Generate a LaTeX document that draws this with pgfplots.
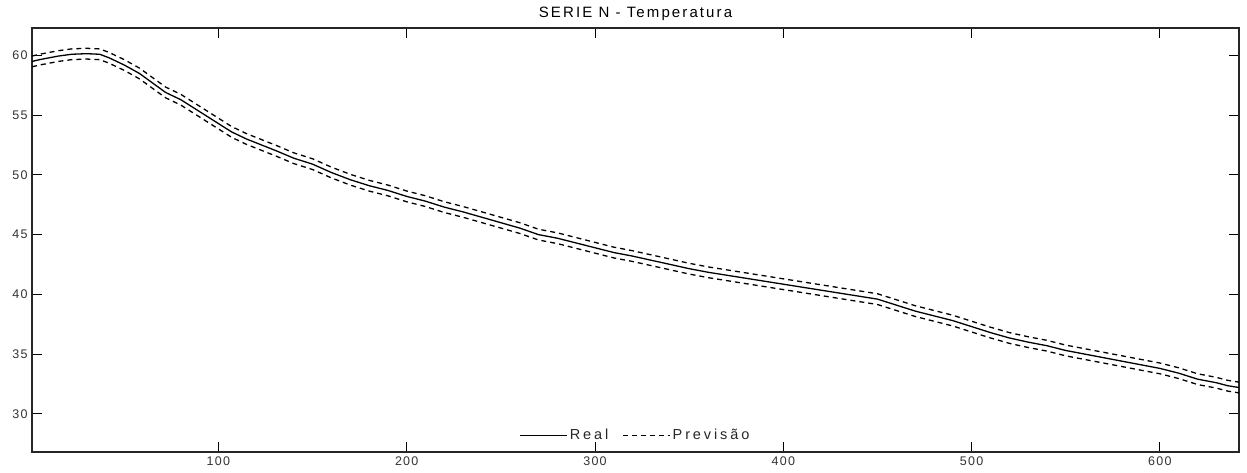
\documentclass[border=0pt]{standalone}
\usepackage{fontspec}
\setmainfont{Liberation Sans}
\newfontfamily\tickfont[LetterSpace=10]{Liberation Sans}
\newfontfamily\legfont[LetterSpace=20]{Liberation Sans}
\newfontfamily\titfont[LetterSpace=14]{Liberation Sans}
\usepackage{pgfplots}
\usepackage{pgfplotstable}
\pgfplotsset{compat=1.18}
\pgfplotstableread{
x real up lo
1 59.5 59.95 59.05
5 59.65 60.1 59.2
10 59.8 60.25 59.35
15 59.95 60.4 59.5
22 60.1 60.55 59.65
30 60.15 60.6 59.7
37 60.1 60.55 59.65
42 59.8 60.25 59.35
50 59.2 59.65 58.75
58 58.5 58.95 58.05
65 57.7 58.15 57.25
72 56.9 57.35 56.45
80 56.3 56.75 55.85
85 55.8 56.25 55.35
92 55.1 55.55 54.65
99 54.4 54.85 53.95
107 53.6 54.05 53.15
115 53.0 53.45 52.55
123 52.5 52.95 52.05
131 52.0 52.45 51.55
140 51.4 51.85 50.95
150 50.9 51.35 50.45
160 50.2 50.65 49.75
170 49.6 50.05 49.15
180 49.1 49.55 48.65
190 48.7 49.15 48.25
200 48.2 48.65 47.75
210 47.8 48.25 47.35
220 47.3 47.75 46.85
230 46.9 47.35 46.45
240 46.45 46.9 46.0
250 46.0 46.45 45.55
260 45.55 46.0 45.1
270 45.0 45.45 44.55
280 44.7 45.15 44.25
290 44.3 44.75 43.85
300 43.9 44.35 43.45
310 43.5 43.95 43.05
320 43.2 43.65 42.75
330 42.85 43.3 42.4
340 42.5 42.95 42.05
350 42.15 42.6 41.7
360 41.85 42.3 41.4
370 41.6 42.05 41.15
380 41.35 41.8 40.9
390 41.1 41.55 40.65
400 40.85 41.3 40.4
410 40.6 41.05 40.15
420 40.35 40.8 39.9
430 40.1 40.55 39.65
440 39.85 40.3 39.4
450 39.6 40.05 39.15
455 39.35 39.8 38.9
460 39.1 39.55 38.65
470 38.6 39.05 38.15
480 38.2 38.65 37.75
490 37.8 38.25 37.35
500 37.3 37.75 36.85
510 36.8 37.25 36.35
520 36.35 36.8 35.9
530 36.0 36.45 35.55
540 35.7 36.15 35.25
550 35.3 35.75 34.85
560 35.0 35.45 34.55
570 34.7 35.15 34.25
580 34.4 34.85 33.95
590 34.1 34.55 33.65
600 33.8 34.25 33.35
610 33.4 33.85 32.95
620 32.9 33.35 32.45
630 32.6 33.05 32.15
636 32.35 32.8 31.9
642 32.2 32.65 31.75
}\data
\begin{document}
\begin{tikzpicture}
\begin{axis}[
  at={(0,0)}, anchor=south west,
  scale only axis, width=1207pt, height=424pt,
  xmin=1, xmax=642, ymin=26.8, ymax=62.3,
  xtick={100,200,300,400,500,600},
  ytick={30,35,40,45,50,55,60},
  tick align=inside, major tick length=10pt,
  axis line style={line width=1.3pt, black!85},
  every tick/.style={line width=1pt, black},
  ticklabel style={font=\tickfont\fontsize{12.5}{14}\selectfont, text=black!80},
  xticklabel style={yshift=-1pt},
  yticklabel style={xshift=-1pt},
  /pgf/number format/assume math mode=true,
  title={SERIE N - Temperatura},
  title style={font=\titfont\fontsize{15}{17}\selectfont, at={(0.5,1)}, anchor=base, yshift=4pt},
  legend columns=2,
  legend style={at={(0.5,0.015)}, anchor=south, draw=none, fill=none,
    font=\legfont\fontsize{14.5}{16}\selectfont, text=black!85,
    /tikz/every even column/.append style={column sep=12pt},
    inner sep=2pt},
  legend image code/.code={\draw[#1] (0pt,0pt) -- (47pt,0pt);},
]
\addplot[black, line width=1.3pt] table[x=x, y=real] {\data};
\addlegendentry{Real}
\addplot[black, line width=1.3pt, dash pattern=on 5pt off 4pt] table[x=x, y=up] {\data};
\addlegendentry{Previsão}
\addplot[black, line width=1.3pt, dash pattern=on 5pt off 4pt, forget plot] table[x=x, y=lo] {\data};
\end{axis}
\pgfresetboundingbox
\useasboundingbox (-32pt,-20pt) rectangle (1215pt,452pt);
\end{tikzpicture}
\end{document}
